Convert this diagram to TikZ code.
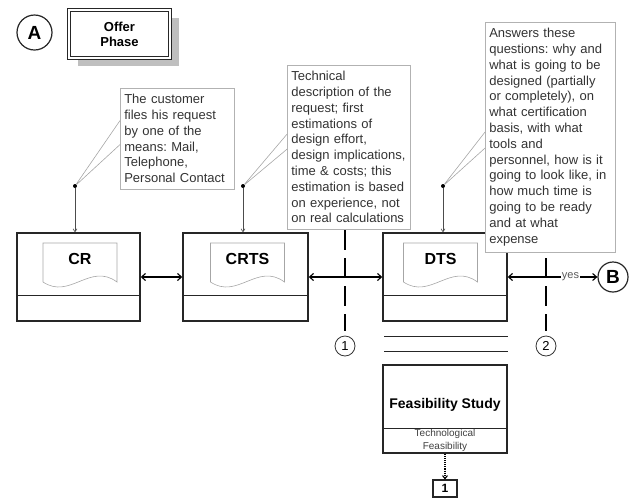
\documentclass[tikz,border=0pt]{standalone}
\usepackage{fontspec}
\setmainfont{Liberation Sans}
\frenchspacing
\usetikzlibrary{arrows.meta,calc,shadows}

\begin{document}
\begin{tikzpicture}[x=1pt,y=-1pt,
	frame/.style={% main process boxes
		rectangle,
		draw=black!85,
		line width=1.4pt,
		minimum height=88pt
	},
	phase/.style={
		rectangle,
		draw=black!85,
		fill=white,
		line width=1.1pt,
		double,
		double distance=1.6pt,
		minimum width=101pt,
		minimum height=48pt,
		align=center,
		font=\fontsize{13}{15}\selectfont\bfseries,
		drop shadow={shadow xshift=9pt, shadow yshift=-8pt, fill=black!25, opacity=1}
	},
	marker/.style={
		circle,
		draw=black!85,
		line width=1.2pt,
		inner sep=0pt,
		font=\fontsize{19}{19}\selectfont\bfseries
	},
	gate/.style={
		circle,
		draw=black!80,
		line width=0.8pt,
		minimum size=20pt,
		inner sep=0pt,
		font=\fontsize{13}{13}\selectfont
	},
	note/.style={% callout boxes
		rectangle,
		draw=black!30,
		fill=white,
		line width=0.6pt,
		anchor=north west,
		align=left,
		inner xsep=4pt,
		inner ysep=6pt,
		text=black!80,
		font=\fontsize{13}{15.8}\selectfont
	},
	doctitle/.style={font=\fontsize{16}{16}\selectfont\bfseries},
	sheet/.style={draw=black!35, line width=0.6pt},
	dot/.style={circle, fill=black, inner sep=0pt, minimum size=4pt},
	leader/.style={draw=black!35, line width=0.6pt},
	pin/.style={draw=black!70, line width=0.6pt, -{Straight Barb[length=3pt,width=4pt]}},
	link/.style={line width=1.1pt, {Straight Barb[length=4pt,width=7pt]}-{Straight Barb[length=4pt,width=7pt]}},
	cut/.style={line width=2pt, dash pattern=on 20pt off 8pt},
]
	\useasboundingbox (0,0) rectangle (632,499);

	\node [marker, minimum size=35pt] (a) at (34.5,32.5) {A};
	\node [phase] (offer) at (119.5,34) {Offer\\Phase};

	% process boxes
	\node [frame, minimum width=123pt] (cr) at (78.5,277) {};
	\node [frame, minimum width=125pt] (crts) at (245.5,277) {};
	\node [frame, minimum width=124pt] (dts) at (445,277) {};
	\foreach \b in {cr,crts,dts}
		\draw [line width=1.4pt, draw=black!85] ([yshift=26pt]\b.south west) -- ([yshift=26pt]\b.south east);

	\node [doctitle] (crdoc) at (80,259) {CR};
	\node [doctitle] (crtsdoc) at (247.5,259) {CRTS};
	\node [doctitle] (dtsdoc) at (440.5,259) {DTS};
	\foreach \d in {crdoc,crtsdoc,dtsdoc}
		\draw [sheet] ($(\d)+(-37,-16)$) -- ++(74,0) -- ++(0,39)
			.. controls +(-27,-20) and +(27,18) .. ++(-74,0) -- cycle;

	\node [marker, minimum size=30pt] (b) at (613,277) {B};

	\draw [link] (cr) -- (crts);
	\draw [link] (crts) -- (dts);
	\draw [link] (dts) -- node [pos=0.7, fill=white, inner sep=1pt, text=black!65, font=\fontsize{11}{11}\selectfont] (yes) {yes} (b);

	% milestones
	\node [gate] (g1) at (345,346) {1};
	\node [gate] (g2) at (546,346) {2};
	\coordinate (cut1) at (345,230);
	\coordinate (cut2) at (546,258);
	\draw [cut] (cut1) -- ([yshift=5pt]g1.north);
	\draw [cut] (cut2) -- ([yshift=5pt]g2.north);

	% callouts
	\node [note, text width=106pt] (note1) at (120,88) {The customer\\files his request\\by one of the\\means: Mail,\\Telephone,\\Personal Contact};
	\node [note, text width=115pt] (note2) at (287,65) {Technical\\description of the\\request; first\\estimations of\\design effort,\\design implications,\\time \& costs; this\\estimation is based\\on experience, not\\on real calculations};
	\node [note, text width=122pt] (note3) at (485,22) {Answers these\\questions: why and\\what is going to be\\designed (partially\\or completely), on\\what certification\\basis, with what\\tools and\\personnel, how is it\\going to look like, in\\how much time is\\going to be ready\\and at what\\expense};

	\node [dot] (d1) at (75,186) {};
	\node [dot] (d2) at (243,186) {};
	\node [dot] (d3) at (443,186) {};

	\draw [leader] ([yshift=18pt]note1.west) -- (d1) -- ([yshift=-6pt]note1.west);
	\draw [leader] ([yshift=13pt]note2.west) -- (d2) -- ([yshift=-2pt]note2.west);
	\draw [leader] ([yshift=5pt]note3.west) -- (d3) -- ([yshift=-11pt]note3.west);

	\draw [pin] (d1) -- (d1 |- cr.north);
	\draw [pin] (d2) -- (d2 |- crts.north);
	\draw [pin] (d3) -- (d3 |- dts.north);

	% feasibility study
	\draw [line width=1.4pt, draw=black!85] ($(dts.south west)+(2,15)$) -- ($(dts.south east)+(0,15)$);
	\draw [line width=1pt, draw=black!85] ($(dts.south west)+(2,30)$) -- ($(dts.south east)+(0,30)$);

	\node [frame, minimum width=124pt] (feas) at (445,409) {};
	\draw [line width=1.2pt, draw=black!85] ([yshift=25pt]feas.south west) -- ([yshift=25pt]feas.south east);
	\node [font=\fontsize{14}{14}\selectfont\bfseries] (feastitle) at (445,405) {Feasibility Study};
	\node [align=center, text=black!75, font=\fontsize{10}{12.5}\selectfont] (feassub) at (445,440.5) {Technological\\Feasibility};

	\node [draw=black!85, line width=1.2pt, minimum width=24pt, minimum height=17pt, inner sep=0pt, font=\fontsize{12}{12}\selectfont\bfseries] (ref1) at (445,488.5) {1};
	\draw [line width=1.1pt, densely dotted, -{Straight Barb[length=3pt,width=5pt]}] (feas) -- (ref1);
\end{tikzpicture}
\end{document}
